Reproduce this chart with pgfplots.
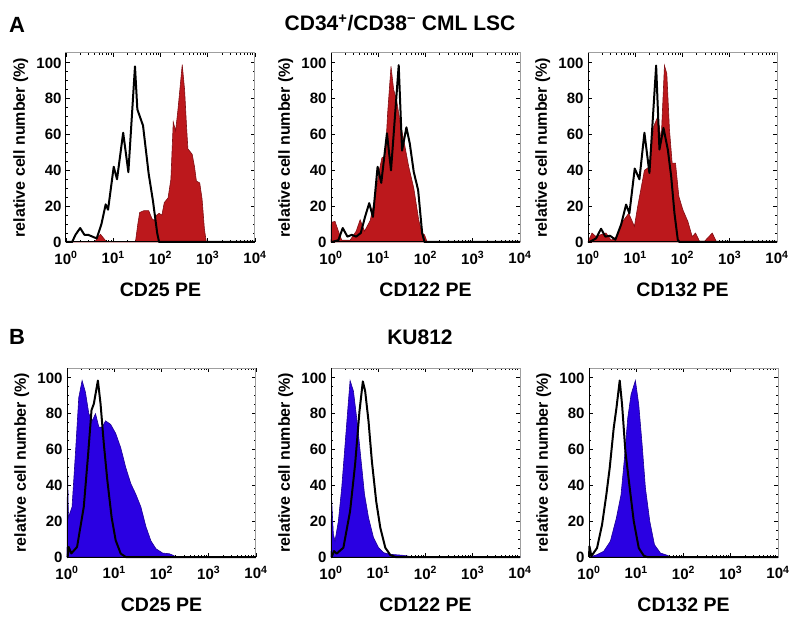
\documentclass[border=0pt]{standalone}
\usepackage{fontspec}
\setmainfont{Liberation Sans}
\usepackage{pgfplots}
\pgfplotsset{compat=1.18}

\definecolor{pefill}{RGB}{188,24,28}
\definecolor{peline}{RGB}{130,15,20}
\definecolor{kufill}{RGB}{42,0,226}
\definecolor{kuline}{RGB}{28,0,150}

% x data are log10 of the PE fluorescence
\pgfplotsset{
  flowpanel/.style={
    scale only axis, width=189pt, height=189pt,
    xmin=0, xmax=4, ymin=0, ymax=105.5,
    clip=false,
    xtick={0,1,2,3,4},
    xticklabels={10\textsuperscript{0},10\textsuperscript{1},10\textsuperscript{2},10\textsuperscript{3},10\textsuperscript{4}},
    minor xtick={0.301,0.477,0.602,0.699,0.778,0.845,0.903,0.954,
                 1.301,1.477,1.602,1.699,1.778,1.845,1.903,1.954,
                 2.301,2.477,2.602,2.699,2.778,2.845,2.903,2.954,
                 3.301,3.477,3.602,3.699,3.778,3.845,3.903,3.954},
    ytick={0,20,...,100},
    minor y tick num=3,
    tick align=inside,
    major tick length=4pt, minor tick length=2.2pt,
    tick style={black, line width=0.8pt},
    axis line style={gray!75, line width=1pt},
    ticklabel style={font=\fontsize{15}{15}\selectfont\bfseries},
    xticklabel style={yshift=-6pt},
    yticklabel style={xshift=-1pt},
    /pgf/number format/assume math mode=true,
    ylabel={relative cell number (\%)},
    ylabel style={at={(axis description cs:-0.24,0.5)}, anchor=center,
                  font=\fontsize{16}{16}\selectfont\bfseries},
    xlabel style={at={(axis description cs:0.5,-0.255)}, anchor=center,
                  font=\fontsize{19.5}{19.5}\selectfont\bfseries},
  },
  isoline/.style={black, line width=2pt, line join=round},
  pefillst/.style={fill=pefill, draw=peline, line width=0.6pt},
  kufillst/.style={fill=kufill, draw=kuline, line width=0.6pt},
}
\newcommand{\blackframe}{\draw[black, line width=1pt] (rel axis cs:0,1) -- (rel axis cs:0,0) -- (rel axis cs:1,0);}

\begin{document}
\begin{tikzpicture}
\useasboundingbox (0,0) rectangle (800pt,619pt);

\node[font=\fontsize{22}{22}\selectfont\bfseries] at (17pt,594pt) {A};
\node[font=\fontsize{22}{22}\selectfont\bfseries] at (17pt,282pt) {B};
\node[font=\fontsize{21}{21}\selectfont\bfseries] at (400pt,596pt) {CD34\textsuperscript{+}/CD38\textsuperscript{−} CML LSC};
\node[font=\fontsize{21}{21}\selectfont\bfseries] at (420pt,282pt) {KU812};

% ---------- A: CD25 ----------
\begin{axis}[flowpanel, at={(66pt,377pt)}, anchor=south west, xlabel={CD25 PE}]
\addplot[pefillst] table {
0 0
0.55 0
0.61 0
0.68 3
0.73 4.3
0.80 2
0.86 0
1.47 0
1.52 10
1.56 16.5
1.65 17.5
1.75 17.5
1.82 13
1.87 12
1.92 15
1.97 16
2.03 15
2.08 22
2.16 24.6
2.22 35
2.27 67
2.32 62
2.37 74
2.46 99
2.51 85
2.55 65
2.58 52
2.67 49
2.72 42
2.76 34
2.83 33
2.88 24
2.93 7
2.97 0
4 0
} \closedcycle;
\addplot[isoline] table {
0 0
0.13 0
0.20 4
0.30 7.8
0.39 4
0.47 4
0.56 3
0.65 2
0.75 10
0.84 21
0.89 18
1.01 42
1.08 35
1.21 61
1.32 39
1.46 98
1.51 74
1.63 65
1.75 38
1.84 23
1.93 5
1.97 0
4 0
};
\blackframe
\end{axis}

% ---------- A: CD122 ----------
\begin{axis}[flowpanel, at={(331pt,377pt)}, anchor=south west, xlabel={CD122 PE}]
\addplot[pefillst] table {
0 0
0.007 11
0.085 11.5
0.156 6
0.227 1
0.404 1
0.532 6
0.617 12.4
0.709 6
0.83 12
0.936 25
1.007 38
1.078 47
1.149 48
1.199 72
1.270 98
1.326 85
1.383 80
1.468 66
1.553 55
1.645 42
1.752 30
1.858 12
1.929 5
1.979 4
2.035 0
4 0
} \closedcycle;
\addplot[isoline] table {
0 0
0.014 0
0.156 1
0.248 7.8
0.348 3
0.44 4
0.532 3
0.63 5
0.72 14
0.809 21.7
0.887 14
0.986 42
1.064 33
1.184 60.7
1.27 40
1.433 98.7
1.504 51
1.596 64
1.667 55
1.752 39
1.844 29
1.929 5
1.979 0
4 0
};
\blackframe
\end{axis}

% ---------- A: CD132 ----------
\begin{axis}[flowpanel, at={(588pt,377pt)}, anchor=south west, xlabel={CD132 PE}]
\addplot[pefillst] table {
0 0
0.014 1
0.085 5
0.17 3
0.26 4
0.38 5
0.49 1
0.61 3
0.735 11.5
0.862 16
0.982 8.7
1.053 20
1.194 40
1.30 42
1.392 64.6
1.477 70
1.548 57
1.618 98.5
1.668 94
1.724 62.7
1.781 44
1.852 44
1.922 25.5
2.007 18
2.113 11.5
2.205 3
2.276 5
2.36 0.4
2.466 0.4
2.629 5
2.714 0.4
2.75 0
4 0
} \closedcycle;
\addplot[isoline] table {
0 0
0.028 0
0.17 2
0.276 7.4
0.367 3
0.466 3.5
0.58 1.3
0.70 9.7
0.806 20.9
0.876 16
0.989 41
1.088 35
1.194 61
1.30 38.5
1.442 98.5
1.512 51.6
1.597 63.7
1.689 51.6
1.76 36.7
1.83 16
1.90 1.3
1.936 0
4 0
};
\blackframe
\end{axis}

% ---------- B: CD25 ----------
\begin{axis}[flowpanel, at={(67pt,62pt)}, anchor=south west, xlabel={CD25 PE}]
\addplot[kufillst] table {
0 0
0.01 53
0.03 22
0.107 28
0.178 57.6
0.249 89
0.32 98.5
0.39 92
0.462 80
0.533 76
0.604 80
0.675 72.5
0.746 72.5
0.817 76
0.924 74
1.03 69
1.137 61
1.243 50
1.35 41
1.457 35
1.563 28
1.67 17
1.776 9
1.883 4.6
2.025 2.2
2.167 1.8
2.24 1
2.31 0
4 0
} \closedcycle;
\addplot[isoline] table {
0 0
0.014 0
0.036 5.6
0.092 2
0.213 5.6
0.355 28
0.448 57.6
0.519 82
0.568 85.5
0.654 98.5
0.71 85.5
0.78 63
0.853 43
0.945 22
1.03 9.3
1.137 1.9
1.243 0
4 0
};
\blackframe
\end{axis}

% ---------- B: CD122 ----------
\begin{axis}[flowpanel, at={(331pt,62pt)}, anchor=south west, xlabel={CD122 PE}]
\addplot[kufillst] table {
0 0
0.01 34
0.05 12.6
0.085 9
0.156 20
0.227 38.7
0.298 62.8
0.369 87
0.404 98.5
0.475 92.6
0.56 74
0.631 55.4
0.709 35
0.794 22
0.90 10.8
1.007 5.2
1.113 2.4
1.255 1.5
1.504 1
1.68 0.3
1.75 0
4 0
} \closedcycle;
\addplot[isoline] table {
0 0
0.014 0
0.064 3.3
0.12 1.9
0.262 5.2
0.404 25.6
0.51 51.7
0.603 81.4
0.674 98
0.723 92.6
0.794 75.8
0.865 53.5
0.957 31
1.043 16.4
1.149 5.2
1.255 1.1
1.362 0
4 0
};
\blackframe
\end{axis}

% ---------- B: CD132 ----------
\begin{axis}[flowpanel, at={(589pt,62pt)}, anchor=south west, xlabel={CD132 PE}]
\addplot[kufillst] table {
0 0
0.028 0
0.17 1.3
0.311 3.2
0.452 8.8
0.58 21.8
0.678 34.8
0.75 55
0.82 77.6
0.89 90.7
0.982 98.5
1.053 85
1.124 62.8
1.194 38.5
1.286 20
1.385 6.9
1.512 2.2
1.654 1
1.724 0
4 0
} \closedcycle;
\addplot[isoline] table {
0 0
0.01 6
0.05 0.5
0.17 5
0.276 18
0.367 34.8
0.438 49.7
0.523 72
0.58 83
0.65 98.5
0.70 85
0.77 59
0.862 38.5
0.947 20
1.053 5
1.16 0.7
1.23 0
4 0
};
\blackframe
\end{axis}
\end{tikzpicture}
\end{document}
